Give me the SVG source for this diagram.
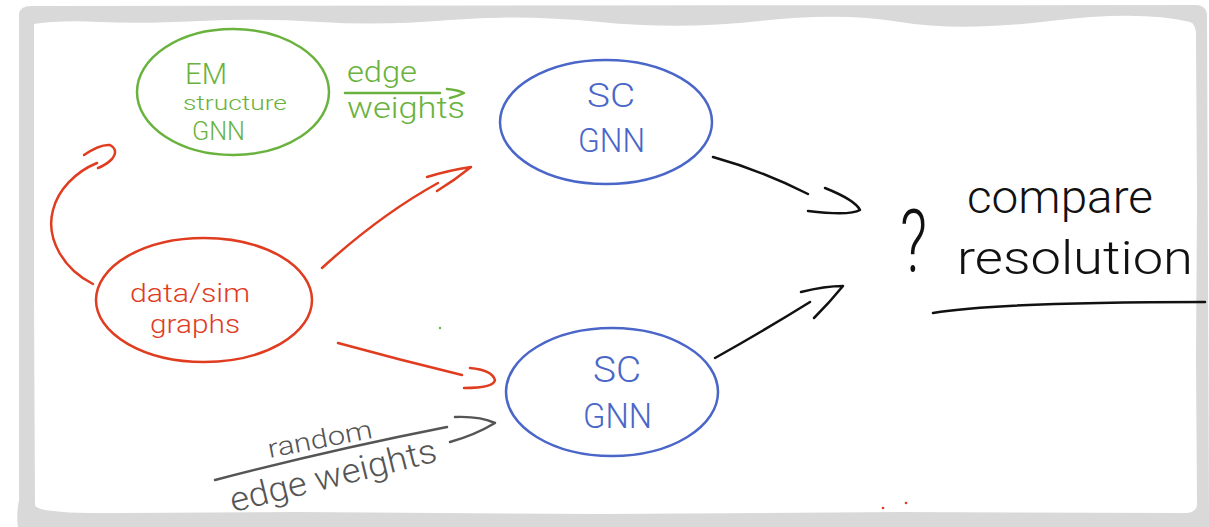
<svg xmlns="http://www.w3.org/2000/svg" width="1209" height="527" viewBox="0 0 1209 527">
<style>
.t{font-family:Roboto,"Liberation Sans",sans-serif;font-weight:300;}
.node{fill:none;stroke-width:2.5;}
.green{fill:#6ab23e;}
.blue{fill:#4a66c8;}
.red{fill:#e03c1f;}
.gray{fill:#555555;}
.blk{fill:#111111;}
.c{fill:none;stroke-width:2.5;stroke-linecap:round;stroke-linejoin:round;}
</style>
<g id="frame">
<path fill="#d9d9d9" d="M19,14 Q20,5 34,6 L1195,5 Q1206,5 1207,14 L1209,527 L18,527 Q16,515 19,500 Z"/>
<path fill="#ffffff" d="M34,24 Q60,20 100,22 T200,21 T320,22 T450,20 T600,22 T760,21 T900,22 T1050,21 T1190,22 Q1197,24 1196,40 L1197,200 L1196,360 L1197,505 Q1196,513 1185,513 L900,512 L600,514 L300,512 L120,513 Q36,514 35,505 L34,300 Z"/>
</g>
<g id="connectors">
<path class="c" stroke="#e03c1f" d="M93,284 C65,270 45,240 53,210 C58,190 75,172 97,163"/>
<path class="c" stroke="#e03c1f" d="M84,155 Q100,144 110,145 Q119,150 112,159 Q106,165 98,168"/>
<path class="c" stroke="#e03c1f" d="M322,268 Q380,215 438,183"/>
<path class="c" stroke="#e03c1f" d="M427,177 Q450,170 471,167 Q455,180 437,191"/>
<path class="c" stroke="#e03c1f" d="M338,343 Q400,360 462,375"/>
<path class="c" stroke="#e03c1f" d="M470,368 Q492,370 495,380 Q494,388 464,388"/>
<path class="c" stroke="#6ab23e" d="M345,93 L440,93"/>
<path class="c" stroke="#6ab23e" d="M447,89 Q458,90 464,93 Q458,96 450,98"/>
<path class="c" stroke="#555555" d="M215,480 Q330,450 447,427"/>
<path class="c" stroke="#555555" d="M455,417 Q480,416 495,423 Q475,435 450,442"/>
<path class="c" stroke="#111111" d="M713,157 Q760,170 808,194"/>
<path class="c" stroke="#111111" d="M825,188 Q855,200 860,210 Q850,216 808,211"/>
<path class="c" stroke="#111111" d="M715,358 Q765,330 810,302"/>
<path class="c" stroke="#111111" d="M801,292 Q825,286 843,286 Q830,302 814,318"/>
<path class="c" stroke="#111111" d="M933,313 Q1000,302 1205,302"/>
</g>
<g id="em-gnn">
<ellipse class="node" cx="233" cy="92" rx="96" ry="63" stroke="#6ab23e"/>
<text class="t green" x="185" y="84" font-size="30" textLength="42" lengthAdjust="spacingAndGlyphs">EM</text>
<text class="t green" x="183" y="110" font-size="20" textLength="104" lengthAdjust="spacingAndGlyphs">structure</text>
<text class="t green" x="192" y="140" font-size="26" textLength="53" lengthAdjust="spacingAndGlyphs">GNN</text>
</g>
<g id="edge-weights-label">
<text class="t green" x="347" y="82" font-size="30" textLength="70" lengthAdjust="spacingAndGlyphs">edge</text>
<text class="t green" x="347" y="118" font-size="30" textLength="118" lengthAdjust="spacingAndGlyphs">weights</text>
</g>
<g id="sc-gnn-top">
<ellipse class="node" cx="606" cy="122" rx="106" ry="62" stroke="#4a66c8"/>
<text class="t blue" x="587" y="107" font-size="34" textLength="48" lengthAdjust="spacingAndGlyphs">SC</text>
<text class="t blue" x="578" y="152" font-size="34" textLength="67" lengthAdjust="spacingAndGlyphs">GNN</text>
</g>
<g id="data-sim">
<ellipse class="node" cx="204" cy="300" rx="108" ry="62" stroke="#e03c1f"/>
<text class="t red" x="130" y="302" font-size="26" textLength="120" lengthAdjust="spacingAndGlyphs">data/sim</text>
<text class="t red" x="150" y="333" font-size="26" textLength="90" lengthAdjust="spacingAndGlyphs">graphs</text>
</g>
<g id="sc-gnn-bottom">
<ellipse class="node" cx="612" cy="392" rx="106" ry="64" stroke="#4a66c8"/>
<text class="t blue" x="593" y="382" font-size="36" textLength="48" lengthAdjust="spacingAndGlyphs">SC</text>
<text class="t blue" x="583" y="428" font-size="35" textLength="69" lengthAdjust="spacingAndGlyphs">GNN</text>
</g>
<g id="random-label">
<text class="t gray" x="320" y="448" font-size="26" text-anchor="middle" transform="rotate(-11 320 440)" textLength="106" lengthAdjust="spacingAndGlyphs">random</text>
<text class="t gray" x="333" y="487" font-size="34" text-anchor="middle" transform="rotate(-14 333 475)" textLength="212" lengthAdjust="spacingAndGlyphs">edge weights</text>
</g>
<g id="compare">
<text class="t blk" x="900" y="272" font-size="88" textLength="27" lengthAdjust="spacingAndGlyphs">?</text>
<text class="t blk" x="967" y="213" font-size="46" textLength="186" lengthAdjust="spacingAndGlyphs">compare</text>
<text class="t blk" x="957" y="274" font-size="46" textLength="236" lengthAdjust="spacingAndGlyphs">resolution</text>
</g>
<g id="dots">
<circle cx="440" cy="328" r="1.2" fill="#6ab23e"/>
<circle cx="883" cy="508" r="1.3" fill="#e03c1f"/>
<circle cx="906" cy="503" r="1.3" fill="#e03c1f"/>
</g>
</svg>
